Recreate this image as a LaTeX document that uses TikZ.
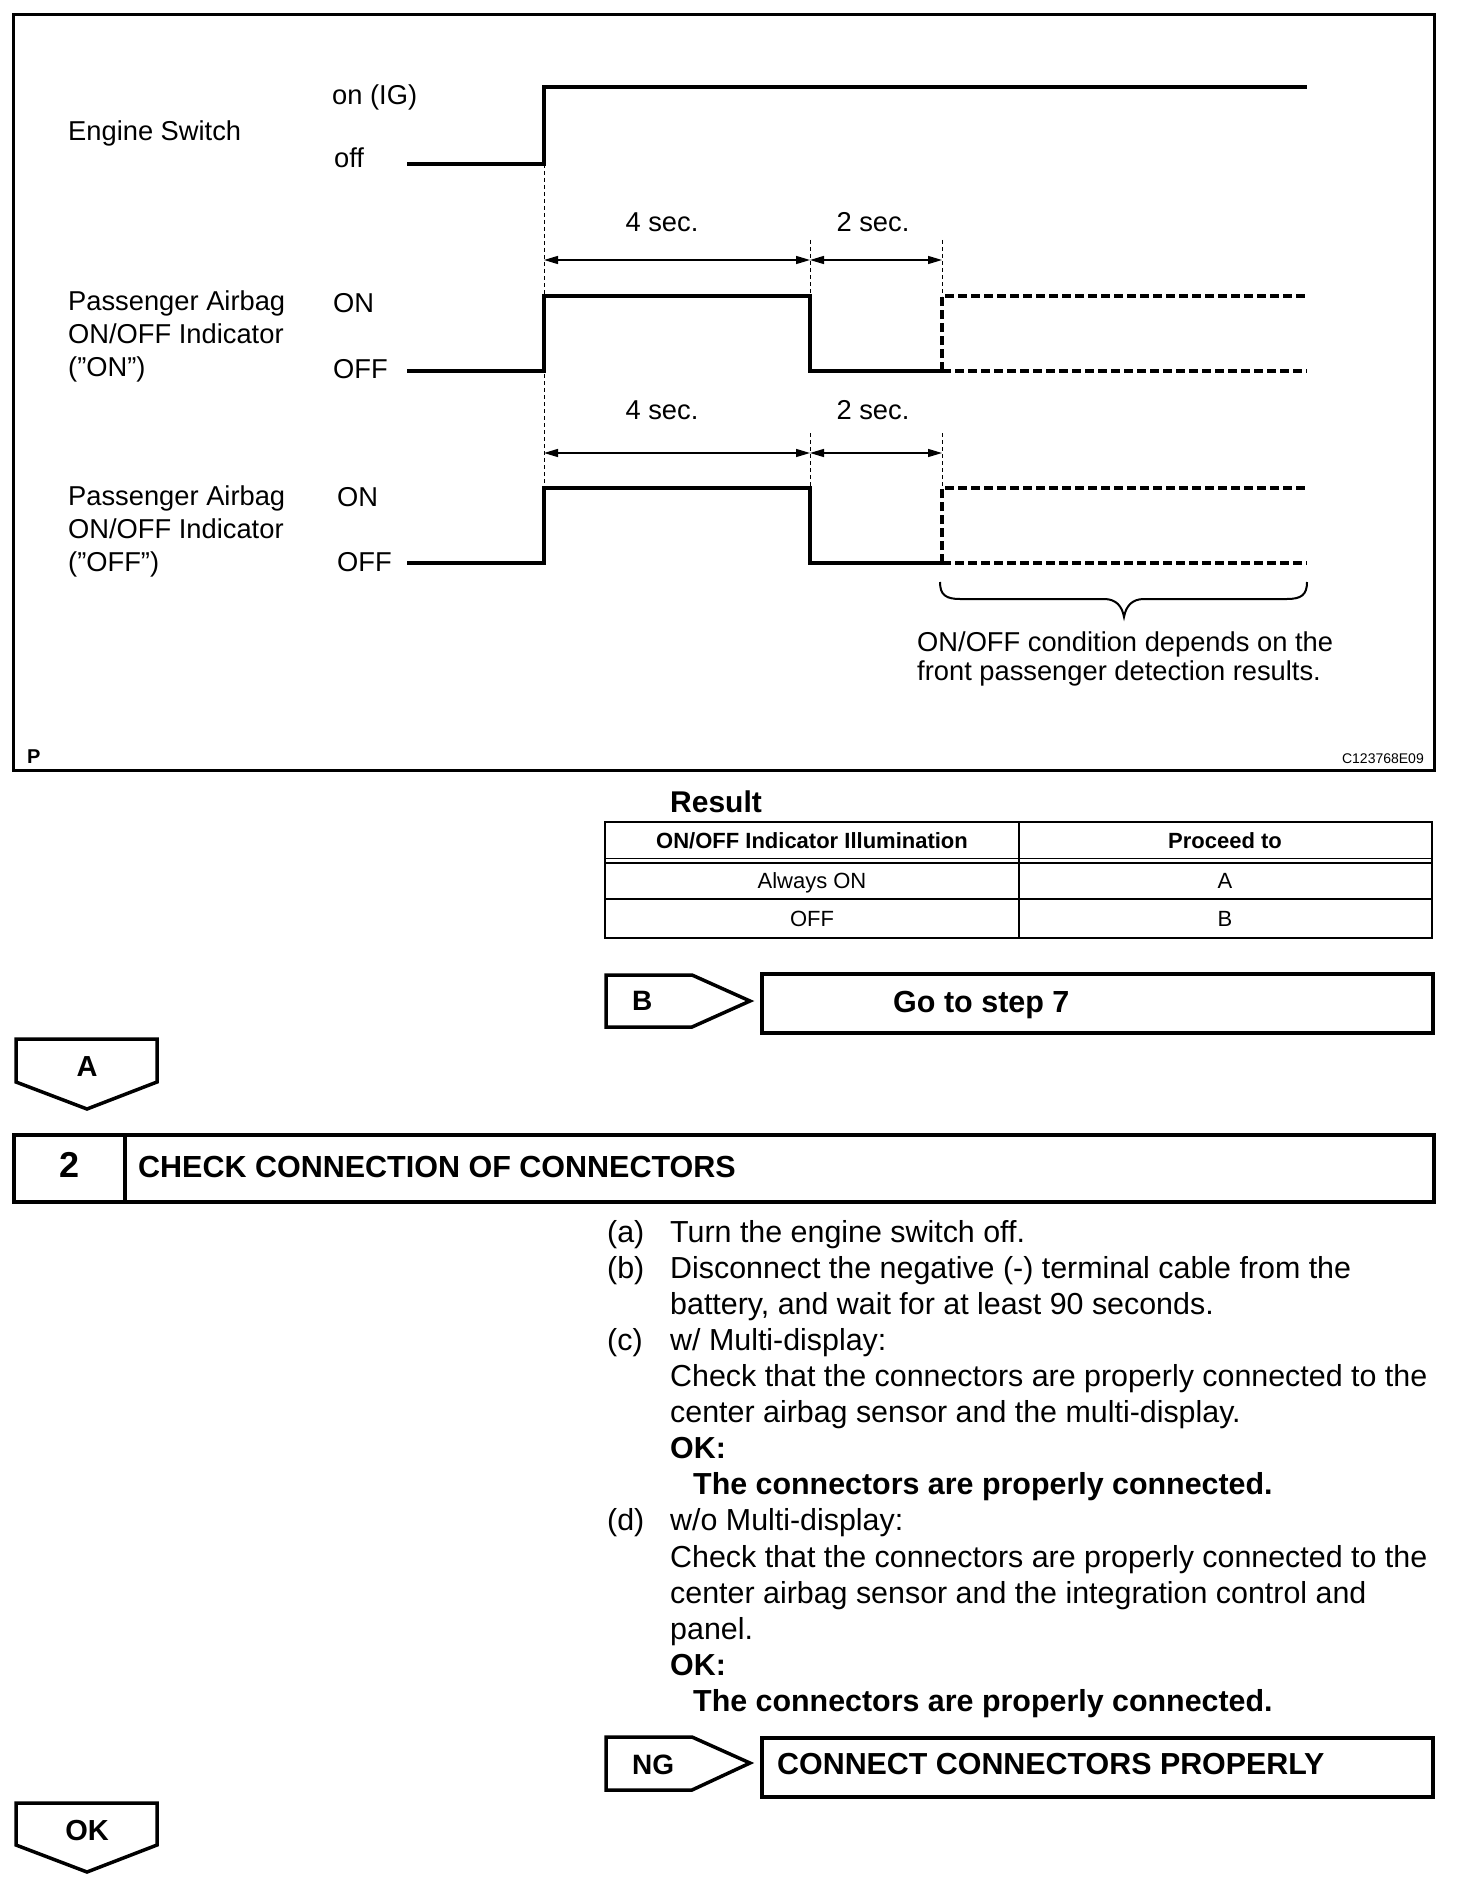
\documentclass[tikz,border=0pt]{standalone}
\usepackage{fontspec}
\setmainfont{Liberation Sans}
\usetikzlibrary{arrows.meta}
\newcommand\szdiag{\fontsize{27.3}{32}\selectfont}
\newcommand\sztab{\fontsize{22}{26}\selectfont}
\newcommand\sztext{\fontsize{30.4}{36}\selectfont}
\newcommand\szbig{\fontsize{30.5}{36}\selectfont}
\begin{document}
\begin{tikzpicture}[x=1pt,y=-1pt,
  lbl/.style={inner sep=0pt,anchor=base west,font=\szdiag},
  sig/.style={line width=4pt,line join=miter},
  sigdash/.style={line width=3.5pt,dash pattern=on 9pt off 4pt},
  guide/.style={line width=1pt,dash pattern=on 4pt off 3pt},
  dim/.style={line width=1.3pt,{Triangle[length=14pt,width=8pt]}-{Triangle[length=14pt,width=8pt]}},
  frame/.style={line width=3pt},
  boxln/.style={line width=4pt},
  pent/.style={line width=3.5pt,line join=miter},
  tab/.style={line width=2.5pt},
  txt/.style={inner sep=0pt,anchor=base west,font=\sztext},
  btxt/.style={inner sep=0pt,anchor=base west,font=\sztext\bfseries}]
\useasboundingbox (0,0) rectangle (1472,1894);
\fill[white] (0,0) rectangle (1472,1894);
% main frame
\draw[frame] (13,15) rectangle (1434,770);
% labels left
\node[lbl] (es) at (68,141) {Engine Switch};
\node[lbl] (esOn) at (332,105) {on (IG)};
\node[lbl] (esOff) at (334,168) {off};
\node[lbl] (pa1) at (68,310) {Passenger Airbag};
\node[lbl] (oi1) at (68,343) {ON/OFF Indicator};
\node[lbl] (q1) at (68,376) {(”ON”)};
\node[lbl] (on1) at (333,312) {ON};
\node[lbl] (off1) at (333,378) {OFF};
\node[lbl] (pa2) at (68,505) {Passenger Airbag};
\node[lbl] (oi2) at (68,538) {ON/OFF Indicator};
\node[lbl] (q2) at (68,571) {(”OFF”)};
\node[lbl] (on2) at (337,506) {ON};
\node[lbl] (off2) at (337,571) {OFF};
% timing coordinates
\coordinate (e0) at (407,164); \coordinate (e1) at (544,164);
\coordinate (e2) at (544,87);  \coordinate (e3) at (1307,87);
% guides
\draw[guide] (544,164) -- (544,488);
\draw[guide] (810,240) -- (810,296);
\draw[guide] (810,433) -- (810,488);
\draw[guide] (942,240) -- (942,296);
\draw[guide] (942,433) -- (942,488);
% engine switch signal
\draw[sig] (e0) -- (e1) -- (e2) -- (e3);
% signal 2
\draw[sig] (407,371) -- (544,371) -- (544,296) -- (810,296) -- (810,371) -- (942,371);
\draw[sigdash] (942,371) -- (942,296) -- (1307,296);
\draw[sigdash] (942,371) -- (1307,371);
% signal 3
\draw[sig] (407,563) -- (544,563) -- (544,488) -- (810,488) -- (810,563) -- (942,563);
\draw[sigdash] (942,563) -- (942,488) -- (1307,488);
\draw[sigdash] (942,563) -- (1307,563);
% dimensions
\coordinate (d1a) at (544,260); \coordinate (d1b) at (810,260); \coordinate (d1c) at (942,260);
\coordinate (d2a) at (544,453); \coordinate (d2b) at (810,453); \coordinate (d2c) at (942,453);
\draw[dim] (d1a) -- (d1b);
\draw[dim] (d1b) -- (d1c);
\draw[dim] (d2a) -- (d2b);
\draw[dim] (d2b) -- (d2c);
\node[inner sep=0pt,anchor=base,font=\szdiag] (s4a) at (662,232) {4 sec.};
\node[inner sep=0pt,anchor=base,font=\szdiag] (s2a) at (873,232) {2 sec.};
\node[inner sep=0pt,anchor=base,font=\szdiag] (s4b) at (662,419) {4 sec.};
\node[inner sep=0pt,anchor=base,font=\szdiag] (s2b) at (873,419) {2 sec.};
% brace
\draw[line width=2pt] (940,582) .. controls (940,595) and (946,599) .. (960,599) -- (1104,599)
  .. controls (1116,599) and (1122,606) .. (1124,617)
  .. controls (1126,606) and (1132,599) .. (1144,599) -- (1287,599)
  .. controls (1301,599) and (1307,595) .. (1307,582);
\node[lbl] (n1) at (917,651) {ON/OFF condition depends on the};
\node[lbl] (n2) at (917,680) {front passenger detection results.};
\node[inner sep=0pt,anchor=base west,font=\fontsize{20}{24}\selectfont\bfseries] (P) at (27,763) {P};
\node[inner sep=0pt,anchor=base east,font=\fontsize{14}{17}\selectfont] (code) at (1424,763) {C123768E09};
% result table
\node[inner sep=0pt,anchor=base west,font=\fontsize{30}{36}\selectfont\bfseries] (res) at (670,812) {Result};
\draw[tab] (605,822) rectangle (1432,938);
\draw[tab] (1019,822) -- (1019,938);
\draw[line width=1.6pt] (605,858.5) -- (1432,858.5);
\draw[line width=1.6pt] (605,863) -- (1432,863);
\draw[tab] (605,899) -- (1432,899);
\node[inner sep=0pt,anchor=base,font=\sztab\bfseries] (h1) at (812,848) {ON/OFF Indicator Illumination};
\node[inner sep=0pt,anchor=base,font=\sztab\bfseries] (h2) at (1225,848) {Proceed to};
\node[inner sep=0pt,anchor=base,font=\sztab] (r1a) at (812,888) {Always ON};
\node[inner sep=0pt,anchor=base,font=\sztab] (r1b) at (1225,888) {A};
\node[inner sep=0pt,anchor=base,font=\sztab] (r2a) at (812,926) {OFF};
\node[inner sep=0pt,anchor=base,font=\sztab] (r2b) at (1225,926) {B};
% B -> go to step 7
\draw[pent] (606,975) -- (692,975) -- (750,1001) -- (692,1027) -- (606,1027) -- cycle;
\node[inner sep=0pt,anchor=base west,font=\fontsize{28}{34}\selectfont\bfseries] (B) at (632,1010) {B};
\draw[boxln] (762,974) rectangle (1433,1033);
\node[inner sep=0pt,anchor=base west,font=\szbig\bfseries] (go7) at (893,1012) {Go to step 7};
% A
\draw[pent] (16,1039) -- (157,1039) -- (157,1082) -- (87,1109) -- (16,1082) -- cycle;
\node[inner sep=0pt,font=\fontsize{29}{34}\selectfont\bfseries] (A) at (87,1067) {A};
% step 2 header
\draw[boxln] (14,1135) rectangle (1434,1202);
\draw[boxln] (125,1135) -- (125,1202);
\node[inner sep=0pt,font=\fontsize{36}{42}\selectfont\bfseries] (two) at (70,1165) {2};
\node[inner sep=0pt,anchor=base west,font=\szbig\bfseries] (hdr) at (138,1177) {CHECK CONNECTION OF CONNECTORS};
% list
\node[txt] (la) at (607,1242) {(a)};
\node[txt] (ta) at (670,1242) {Turn the engine switch off.};
\node[txt] (lb) at (607,1278) {(b)};
\node[txt] (tb1) at (670,1278) {Disconnect the negative (-) terminal cable from the};
\node[txt] (tb2) at (670,1314) {battery, and wait for at least 90 seconds.};
\node[txt] (lc) at (607,1350) {(c)};
\node[txt] (tc1) at (670,1350) {w/ Multi-display:};
\node[txt] (tc2) at (670,1386) {Check that the connectors are properly connected to the};
\node[txt] (tc3) at (670,1422) {center airbag sensor and the multi-display.};
\node[btxt] (tc4) at (670,1458) {OK:};
\node[btxt] (tc5) at (693,1494) {The connectors are properly connected.};
\node[txt] (ld) at (607,1530) {(d)};
\node[txt] (td1) at (670,1530) {w/o Multi-display:};
\node[txt] (td2) at (670,1567) {Check that the connectors are properly connected to the};
\node[txt] (td3) at (670,1603) {center airbag sensor and the integration control and};
\node[txt] (td4) at (670,1639) {panel.};
\node[btxt] (td5) at (670,1675) {OK:};
\node[btxt] (td6) at (693,1711) {The connectors are properly connected.};
% NG
\draw[pent] (606,1737) -- (692,1737) -- (750,1763) -- (692,1790) -- (606,1790) -- cycle;
\node[inner sep=0pt,anchor=base west,font=\fontsize{28}{34}\selectfont\bfseries] (NG) at (632,1774) {NG};
\draw[boxln] (762,1738) rectangle (1433,1797);
\node[btxt] (conn) at (777,1774) {CONNECT CONNECTORS PROPERLY};
% OK
\draw[pent] (16,1803) -- (157,1803) -- (157,1845) -- (87,1872) -- (16,1845) -- cycle;
\node[inner sep=0pt,font=\fontsize{29}{34}\selectfont\bfseries] (OK) at (87,1830) {OK};
\end{tikzpicture}
\end{document}
